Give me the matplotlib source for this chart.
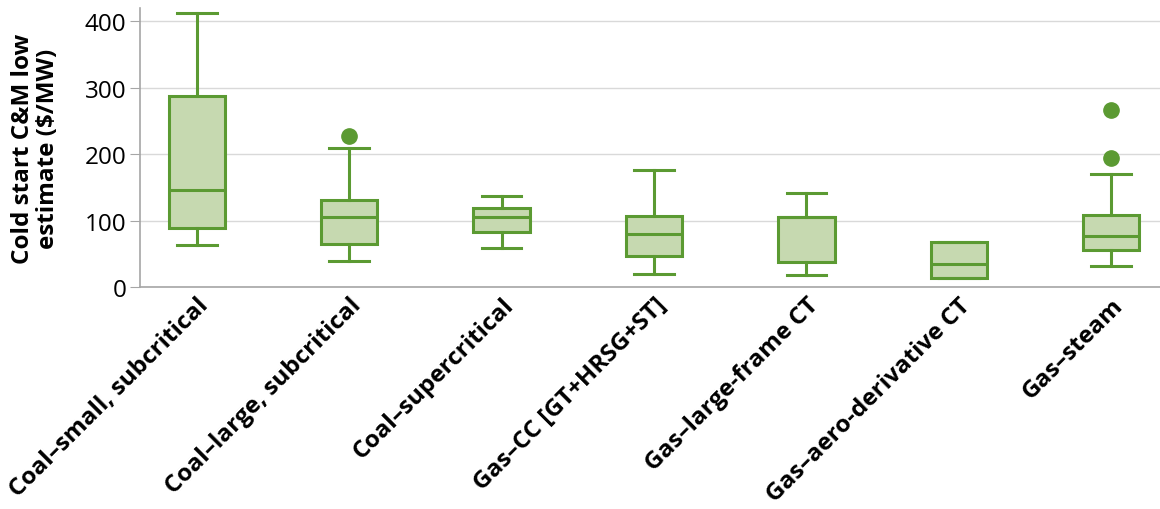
import matplotlib.pyplot as plt

# cold start C&M low estimates by plant type ($/MW)
labels = ['Coal\u2013small, subcritical', 'Coal\u2013large, subcritical',
          'Coal\u2013supercritical', 'Gas\u2013CC [GT+HRSG+ST]',
          'Gas\u2013large-frame CT', 'Gas\u2013aero-derivative CT', 'Gas\u2013steam']
whislo = [63, 39, 59, 20, 18, 14, 32]
q1 = [89, 65, 83, 47, 38, 14, 56]
med = [147, 105, 105, 80, 105, 35, 77]
q3 = [288, 131, 119, 107, 105, 68, 108]
whishi = [412, 209, 137, 177, 141, 68, 170]
fliers = [[], [227], [], [], [], [], [266, 194]]

green = '#5b9a32'
fill = '#c6d9b0'

plt.rcParams['font.family'] = ['Open Sans', 'DejaVu Sans']

stats = []
for i in range(len(labels)):
    stats.append({'label': labels[i], 'whislo': whislo[i], 'q1': q1[i],
                  'med': med[i], 'q3': q3[i], 'whishi': whishi[i],
                  'fliers': fliers[i]})

fig, ax = plt.subplots(figsize=(11.6, 5.1), dpi=100)
fig.subplots_adjust(left=0.121, right=1.0, top=0.982, bottom=0.435)

ax.bxp(stats, positions=range(len(labels)), widths=0.37, patch_artist=True,
       boxprops=dict(facecolor=fill, edgecolor=green, linewidth=2.2),
       medianprops=dict(color=green, linewidth=2.2),
       whiskerprops=dict(color=green, linewidth=2.2),
       capprops=dict(color=green, linewidth=2.2),
       capwidths=0.26,
       flierprops=dict(marker='o', markerfacecolor=green, markeredgecolor=green,
                       markersize=11))

ax.set_xlim(-0.37, 6.32)
ax.set_ylim(0, 420)
ax.set_yticks([0, 100, 200, 300, 400])
ax.yaxis.grid(True, color='#d9d9d9', linewidth=1)
ax.set_axisbelow(True)

for s in ['top', 'right']:
    ax.spines[s].set_visible(False)
ax.spines['left'].set_color('#a6a6a6')
ax.spines['bottom'].set_color('#a6a6a6')
ax.spines['left'].set_linewidth(1.2)
ax.spines['bottom'].set_linewidth(1.2)

ax.tick_params(axis='y', labelsize=17.5, length=7, color='#a6a6a6', pad=3)
ax.tick_params(axis='x', length=0, pad=4)
ax.set_xticklabels(labels, rotation=45, ha='right', rotation_mode='anchor',
                   fontsize=17.5, fontweight='bold')
ax.set_ylabel('Cold start C&M low\nestimate ($/MW)', fontsize=17.5,
              fontweight='bold', linespacing=1.05, labelpad=18)

fig.savefig('out.png')
